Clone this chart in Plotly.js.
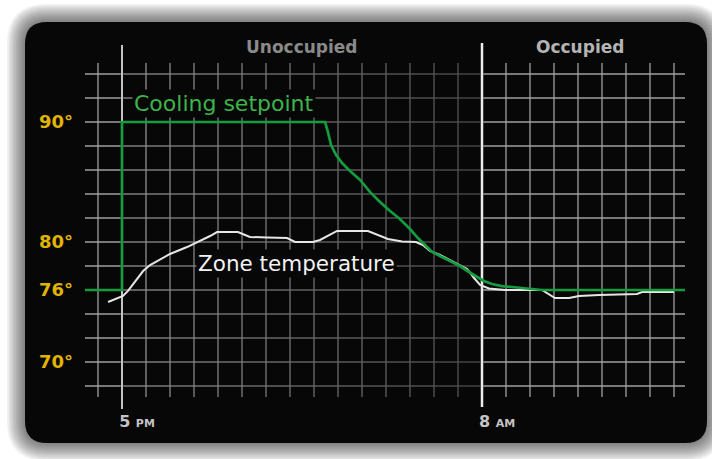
<!DOCTYPE html>
<html><head><meta charset="utf-8">
<script src="https://cdn.plot.ly/plotly-3.0.1.min.js"></script>
<style>html,body{margin:0;padding:0;background:#fff;}#chart{width:712px;height:459px;}</style>
</head><body><div id="chart"></div>
<script>
// x = hours after 5 PM, y = degrees F
const setpointHours = [-1.6, 0, 0, 8.46, 8.58, 8.71, 8.92, 9.17, 9.5, 9.92, 10.33, 10.75, 11.17, 11.58, 12.0, 12.33, 12.63, 12.92, 13.25, 13.75, 14.08, 14.46, 14.79, 15.08, 15.42, 15.83, 16.46, 17.5, 23.6];
const setpointTemps = [76, 76, 90, 90, 89.17, 88.08, 87.25, 86.58, 85.92, 85.17, 84.17, 83.33, 82.58, 81.92, 81.08, 80.33, 79.75, 79.17, 78.83, 78.33, 78.0, 77.5, 77.08, 76.75, 76.5, 76.33, 76.21, 76, 76];
const zoneHours = [-0.58, -0.25, 0.04, 0.25, 0.46, 0.67, 0.88, 1.17, 1.46, 2.0, 2.71, 3.25, 3.67, 3.96, 4.83, 5.13, 5.33, 6.04, 6.88, 7.21, 7.96, 8.25, 8.58, 8.96, 10.25, 10.67, 11.08, 11.67, 12.25, 12.54, 12.83, 13.25, 13.75, 14.08, 14.38, 14.67, 14.92, 15.29, 15.96, 17.5, 17.79, 18.04, 18.63, 19.04, 19.88, 21.46, 21.67, 23.0];
const zoneTemps = [75.0, 75.25, 75.5, 75.92, 76.5, 77.08, 77.58, 78.08, 78.42, 79.0, 79.58, 80.08, 80.5, 80.83, 80.83, 80.58, 80.42, 80.38, 80.33, 80.0, 80.0, 80.17, 80.5, 80.92, 80.92, 80.58, 80.25, 80.04, 80.0, 79.75, 79.25, 78.92, 78.42, 78.08, 77.75, 77.0, 76.42, 76.13, 76.0, 76.0, 75.67, 75.33, 75.33, 75.5, 75.58, 75.67, 75.83, 75.83];
const xTickVals = [0, 15];
const xTickText = ['5 <span style="font-size:11px">PM</span>', '8 <span style="font-size:11px">AM</span>'];
const yTickVals = [70, 76, 80, 90];
const yTickText = ['70°', '76°', '80°', '90°'];
const gridHours = [-1, 0, 1, 2, 3, 4, 5, 6, 7, 8, 9, 10, 11, 12, 13, 14, 15, 16, 17, 18, 19, 20, 21, 22, 23];
const gridTemps = [68, 70, 72, 74, 76, 78, 80, 82, 84, 86, 88, 90, 92, 94];
const unoccupiedStart = 0;
const occupiedStart = 15;
const regionNames = ['Unoccupied', 'Occupied'];
const seriesNames = ['Cooling setpoint', 'Zone temperature'];

const W = 712, H = 459, ML = 85, MR = 27, MT = 63, MB = 62;
const PW = W - ML - MR, PH = H - MT - MB;
const x0 = -37 / 24, x1 = x0 + PW / 24;
const yTop = 80 + (242 - MT) / 12, yBot = yTop - PH / 12;

const xp = px => (px - ML) / PW;
const yp = py => (H - MB - py) / PH;
function roundRect(L, T, R, B, r) {
  return `M${xp(L + r)},${yp(T)} L${xp(R - r)},${yp(T)} Q${xp(R)},${yp(T)} ${xp(R)},${yp(T + r)} ` +
    `L${xp(R)},${yp(B - r)} Q${xp(R)},${yp(B)} ${xp(R - r)},${yp(B)} L${xp(L + r)},${yp(B)} ` +
    `Q${xp(L)},${yp(B)} ${xp(L)},${yp(B - r)} L${xp(L)},${yp(T + r)} Q${xp(L)},${yp(T)} ${xp(L + r)},${yp(T)} Z`;
}

const shapes = [];
for (let i = 10; i >= 1; i--) {
  const e = i * 1.8;
  shapes.push({type: 'path', xref: 'paper', yref: 'paper', layer: 'below', line: {width: 0},
    fillcolor: 'rgba(0,0,0,0.06)', path: roundRect(25 - e, 22 - e, 707 + e, 443 + e, 22 + e)});
}
shapes.push({type: 'path', xref: 'paper', yref: 'paper', layer: 'below', line: {width: 0},
  fillcolor: '#070707', path: roundRect(25, 22, 707, 443, 22)});
shapes.push({type: 'line', xref: 'x', yref: 'paper', layer: 'between', x0: unoccupiedStart, x1: unoccupiedStart,
  y0: yp(409), y1: yp(45), line: {color: '#c4c4c4', width: 2}});
shapes.push({type: 'line', xref: 'x', yref: 'paper', layer: 'between', x0: occupiedStart, x1: occupiedStart,
  y0: yp(407), y1: yp(43), line: {color: '#ececec', width: 2.5}});

// ---- grid, dimmer during the unoccupied period ----
const data = [];
const gap = 0.05;
function gridTrace(segs, color) {
  const xs = [], ys = [];
  segs.forEach(s => { xs.push(s[0], s[2], null); ys.push(s[1], s[3], null); });
  data.push({x: xs, y: ys, type: 'scatter', mode: 'lines', line: {color: color, width: 1.3},
    hoverinfo: 'skip', showlegend: false});
}
const outer = [];
gridTemps.forEach(t => { outer.push([x0, t, unoccupiedStart - gap, t]); outer.push([occupiedStart + gap, t, x1, t]); });
gridHours.filter(h => h < unoccupiedStart || h > occupiedStart).forEach(h => outer.push([h, yBot, h, yTop]));
gridTrace(outer, '#a0a0a0');
for (let k = unoccupiedStart; k < occupiedStart; k++) {
  const segs = [];
  const a = Math.max(k, unoccupiedStart + gap), b = Math.min(k + 1, occupiedStart - gap);
  gridTemps.forEach(t => segs.push([a, t, b, t]));
  if (k + 1 < occupiedStart) segs.push([k + 1, yBot, k + 1, yTop]);
  const f = (k + 0.5 - unoccupiedStart) / (occupiedStart - unoccupiedStart);
  const v = Math.round(0x92 - (0x92 - 0x4c) * f);
  gridTrace(segs, `rgb(${v},${v},${v})`);
}

data.push({x: zoneHours, y: zoneTemps, type: 'scatter', mode: 'lines', name: seriesNames[1],
  line: {color: '#e6e6e6', width: 2}, hoverinfo: 'skip'});
data.push({x: setpointHours, y: setpointTemps, type: 'scatter', mode: 'lines', name: seriesNames[0],
  line: {color: '#149c3e', width: 2.7}, hoverinfo: 'skip'});

const layout = {
  width: W, height: H,
  margin: {l: ML, r: MR, t: MT, b: MB, pad: 0},
  paper_bgcolor: '#ffffff', plot_bgcolor: 'rgba(0,0,0,0)',
  showlegend: false,
  font: {family: 'DejaVu Sans', color: '#c0c0c0'},
  xaxis: {
    range: [x0, x1], showline: false, zeroline: false, showgrid: false,
    tickmode: 'array', tickvals: xTickVals, ticktext: xTickText, ticks: '',
    tickfont: {family: 'DejaVu Sans', size: 16, color: '#c4c4c4', weight: 'bold'},
    ticklabelshift: 15, ticklabelstandoff: 13
  },
  yaxis: {
    range: [yBot, yTop], showline: false, zeroline: false, showgrid: false,
    tickmode: 'array', tickvals: yTickVals, ticktext: yTickText, ticks: '',
    tickfont: {family: 'DejaVu Sans', size: 18, color: '#e0b400', weight: 'bold'},
    ticklabelstandoff: 11
  },
  shapes: shapes,
  annotations: [
    {xref: 'x', yref: 'paper', x: (unoccupiedStart + occupiedStart) / 2, y: yp(47), text: regionNames[0],
      showarrow: false, xanchor: 'center', yanchor: 'middle',
      font: {family: 'DejaVu Sans', size: 17, color: '#8a8a8a', weight: 'bold'}},
    {xref: 'x', yref: 'paper', x: 19.1, y: yp(47), text: regionNames[1],
      showarrow: false, xanchor: 'center', yanchor: 'middle',
      font: {family: 'DejaVu Sans', size: 17, color: '#b4b4b4', weight: 'bold'}},
    {xref: 'x', yref: 'y', x: 0.42, y: 91.58, text: seriesNames[0], showarrow: false,
      xanchor: 'left', yanchor: 'middle', bgcolor: '#070707', borderpad: 1,
      font: {family: 'DejaVu Sans', size: 22, color: '#3cb44a'}},
    {xref: 'x', yref: 'y', x: 3.08, y: 78.25, text: seriesNames[1], showarrow: false,
      xanchor: 'left', yanchor: 'middle', bgcolor: '#070707', borderpad: 1,
      font: {family: 'DejaVu Sans', size: 21.5, color: '#f2f2f2'}}
  ]
};

Plotly.newPlot('chart', data, layout, {displayModeBar: false, staticPlot: true});
</script></body></html>
